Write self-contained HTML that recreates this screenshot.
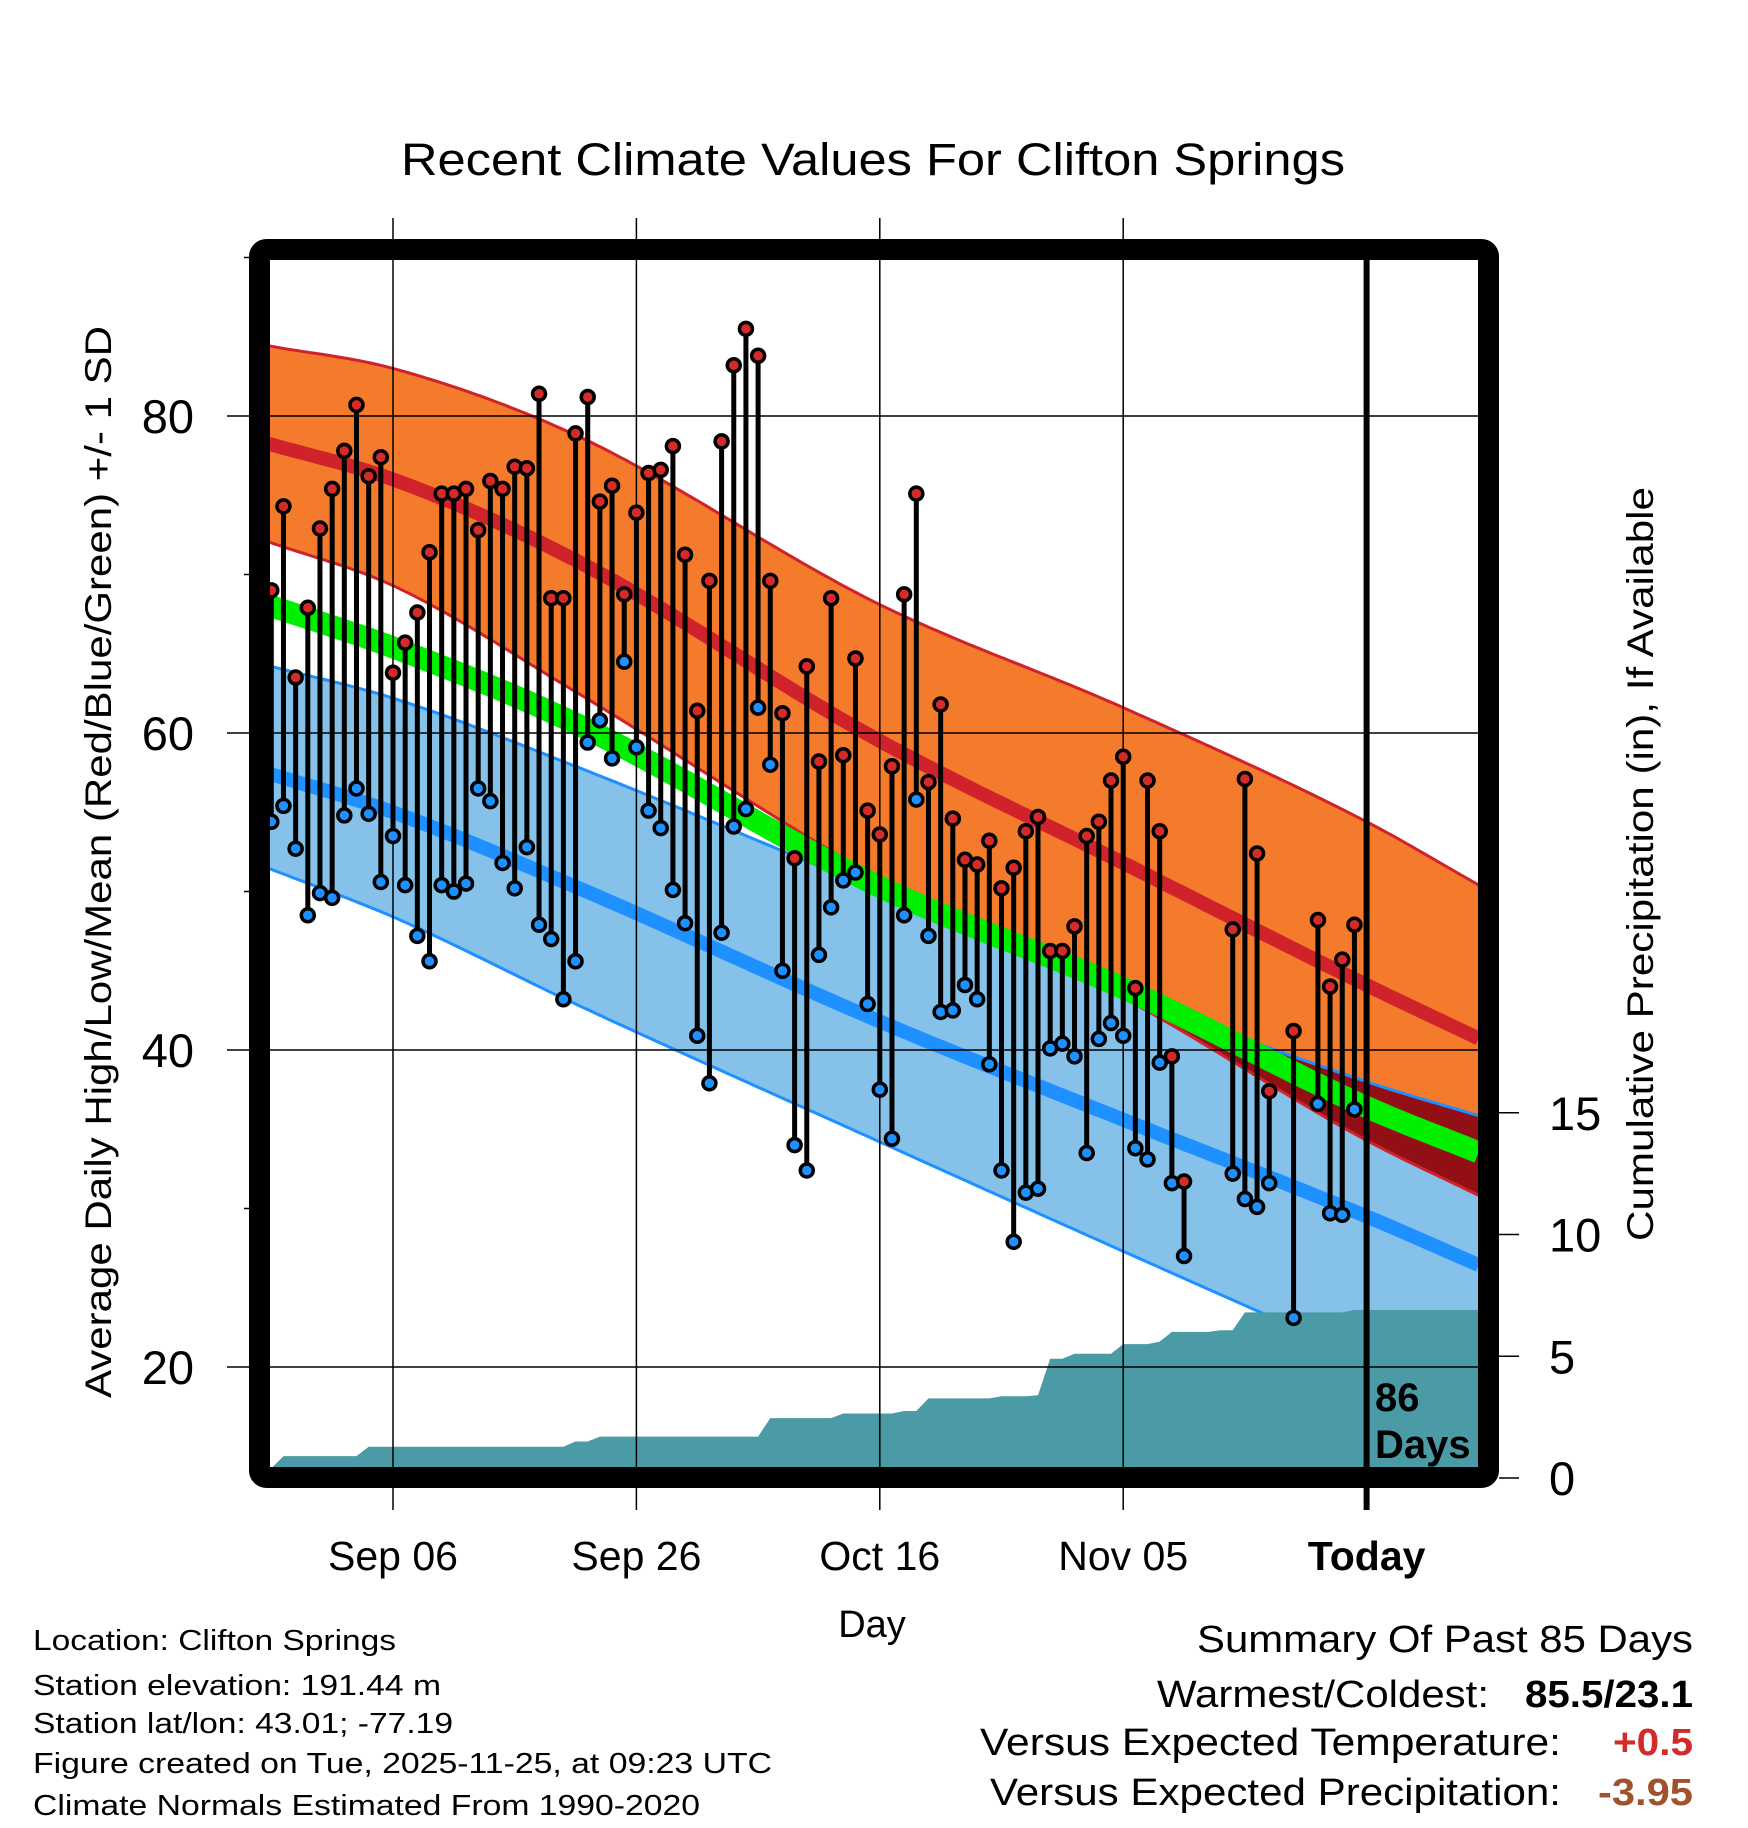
<!DOCTYPE html>
<html><head><meta charset="utf-8"><style>
html,body{margin:0;padding:0;background:#fff}
svg{display:block}
text{font-family:"Liberation Sans",Arial,sans-serif}
</style></head><body>
<svg id="chart" xmlns="http://www.w3.org/2000/svg" width="1748" height="1828" viewBox="0 0 1748 1828">
<defs><clipPath id="plotClip"><rect x="270" y="260" width="1208" height="1208"/></clipPath><clipPath id="orangeClip"><path id="orangeClipPath" d=""/></clipPath></defs>
<rect width="1748" height="1828" fill="#fff"/>
<g id="plot" clip-path="url(#plotClip)"></g>
<g id="axes"></g>
<text x="873" y="175" text-anchor="middle" font-size="45" textLength="944" lengthAdjust="spacingAndGlyphs">Recent Climate Values For Clifton Springs</text>
<text transform="translate(111,862) rotate(-90)" text-anchor="middle" font-size="37" textLength="1072" lengthAdjust="spacingAndGlyphs">Average Daily High/Low/Mean (Red/Blue/Green) +/- 1 SD</text>
<text transform="translate(1653,864) rotate(-90)" text-anchor="middle" font-size="37" textLength="754" lengthAdjust="spacingAndGlyphs">Cumulative Precipitation (in), If Available</text>
<text x="872" y="1637" text-anchor="middle" font-size="38">Day</text>
<g font-size="29">
<text x="33" y="1650" textLength="363" lengthAdjust="spacingAndGlyphs">Location: Clifton Springs</text>
<text x="33" y="1695" textLength="408" lengthAdjust="spacingAndGlyphs">Station elevation: 191.44 m</text>
<text x="33" y="1733" textLength="420" lengthAdjust="spacingAndGlyphs">Station lat/lon: 43.01; -77.19</text>
<text x="33" y="1773" textLength="739" lengthAdjust="spacingAndGlyphs">Figure created on Tue, 2025-11-25, at 09:23 UTC</text>
<text x="33" y="1815" textLength="667" lengthAdjust="spacingAndGlyphs">Climate Normals Estimated From 1990-2020</text>
</g>
<g font-size="38">
<text x="1693" y="1652" text-anchor="end" textLength="496" lengthAdjust="spacingAndGlyphs">Summary Of Past 85 Days</text>
<text x="1157" y="1707" textLength="332" lengthAdjust="spacingAndGlyphs">Warmest/Coldest:</text>
<text x="1693" y="1707" text-anchor="end" font-weight="bold" textLength="168" lengthAdjust="spacingAndGlyphs">85.5/23.1</text>
<text x="980" y="1755" textLength="581" lengthAdjust="spacingAndGlyphs">Versus Expected Temperature:</text>
<text x="1693" y="1755" text-anchor="end" font-weight="bold" fill="#d42a2a" textLength="80" lengthAdjust="spacingAndGlyphs">+0.5</text>
<text x="990" y="1805" textLength="571" lengthAdjust="spacingAndGlyphs">Versus Expected Precipitation:</text>
<text x="1693" y="1805" text-anchor="end" font-weight="bold" fill="#a0522d" textLength="95" lengthAdjust="spacingAndGlyphs">-3.95</text>
</g>
</svg>
<script>
// ---- data ----
const normDays = [-10, 0, 15, 40, 60, 80, 89];
const highPlusSD = [84.4, 83.0, 78.8, 68.1, 61.6, 54.4, 50.5];
const highMean = [78.2, 76.0, 70.9, 59.5, 51.8, 44.1, 40.8];
const highMinusSD = [72.0, 69.3, 62.6, 50.8, 43.3, 34.3, 30.9];
const meanNormal = [68.0, 65.4, 60.6, 50.3, 43.9, 36.4, 33.6];
const lowPlusSD = [64.2, 62.2, 57.9, 50.0, 43.6, 38.0, 35.9];
const lowMean = [57.4, 55.0, 50.3, 41.8, 35.6, 29.5, 26.5];
const lowMinusSD = [51.4, 48.4, 42.9, 34.2, 27.3, 20.5, 17.5];

const obsDay = [-10,-9,-8,-7,-6,-5,-4,-3,-2,-1,0,1,2,3,4,5,6,7,8,9,10,11,12,13,14,15,16,17,18,19,20,21,22,23,24,25,26,27,28,29,30,31,32,33,34,35,36,37,38,39,40,41,42,43,44,45,46,47,48,49,50,51,52,53,54,55,56,57,58,59,60,61,62,63,64,65,69,70,71,72,74,76,77,78,79];
const obsHigh = [69.0,74.3,63.5,67.9,72.9,75.4,77.8,80.7,76.2,77.4,
63.8,65.7,67.6,71.4,75.1,75.1,75.4,72.8,75.9,75.4,
76.8,76.7,81.4,68.5,68.5,78.9,81.2,74.6,75.6,68.75,
73.9,76.4,76.6,78.1,71.25,61.4,69.6,78.4,83.2,85.5,
83.8,69.6,61.25,52.1,64.2,58.2,68.5,58.6,64.7,55.1,
53.6,57.9,68.75,75.1,56.9,61.8,54.6,52.0,51.7,53.2,
50.2,51.5,53.8,54.7,46.25,46.25,47.8,53.5,54.4,57.0,
58.5,43.9,57.0,53.8,39.6,31.7,
47.6,57.1,52.4,37.4,41.2,48.2,44.0,45.7,47.9];
const obsLow = [54.4,55.4,52.7,48.5,49.9,49.6,54.8,56.5,54.9,50.6,
53.5,50.4,47.2,45.6,50.4,50.0,50.5,56.5,55.7,51.8,
50.2,52.8,47.9,47.0,43.2,45.6,59.4,60.8,58.4,64.5,
59.1,55.1,54.0,50.1,48.0,40.9,37.9,47.4,54.1,55.2,
61.6,58.0,45.0,34.0,32.4,46.0,49.0,50.7,51.2,42.9,
37.5,34.4,48.5,55.8,47.2,42.4,42.5,44.1,43.2,39.1,
32.4,27.9,31.0,31.25,40.1,40.4,39.6,33.5,40.7,41.7,
40.9,33.8,33.1,39.2,31.6,27.0,
32.2,30.6,30.1,31.6,23.1,36.6,29.7,29.6,36.25];

const precipDay = [-10,-9,-2,15,17,31,37,42,44,50,53,54,56,60,63,64,68,70,79];
const precipCum = [0.4,0.9,1.28,1.5,1.7,2.46,2.65,2.75,3.27,3.36,3.4,4.9,5.1,5.5,5.6,6.0,6.07,6.8,6.9];

const xTickDays = [0, 20, 40, 60, 80];
const xTickLabels = ["Sep 06", "Sep 26", "Oct 16", "Nov 05", "Today"];
const yTicks = [20, 40, 60, 80];
const yMinorTicks = [30, 50, 70, 90];
const pTicks = [0, 5, 10, 15];
const todayDay = 80;

// ---- scales ----
const X0 = 393, PXD = 12.17;
function xs(d){ return X0 + PXD*d; }
function ys(t){ return 416 + (80 - t)*15.85; }
function yp(p){ return 1478 - 24.35*p; }
const DMIN = -10.3, DMAX = 89.3;

const NS = "http://www.w3.org/2000/svg";
function mk(tag, attrs, parent){
  const e = document.createElementNS(NS, tag);
  for (const k in attrs) e.setAttribute(k, attrs[k]);
  parent.appendChild(e);
  return e;
}
function interp(days, vals, d){
  const n = days.length;
  if (d <= days[0]) { const s=(vals[1]-vals[0])/(days[1]-days[0]); return vals[0]+s*(d-days[0]); }
  if (d >= days[n-1]) { const s=(vals[n-1]-vals[n-2])/(days[n-1]-days[n-2]); return vals[n-1]+s*(d-days[n-1]); }
  let i = 0; while (d > days[i+1]) i++;
  const tang = k => {
    if (k === 0) return (vals[1]-vals[0])/(days[1]-days[0]);
    if (k === n-1) return (vals[n-1]-vals[n-2])/(days[n-1]-days[n-2]);
    return ((vals[k+1]-vals[k])/(days[k+1]-days[k]) + (vals[k]-vals[k-1])/(days[k]-days[k-1]))/2;
  };
  const h = days[i+1]-days[i], t = (d-days[i])/h;
  const h00=2*t*t*t-3*t*t+1, h10=t*t*t-2*t*t+t, h01=-2*t*t*t+3*t*t, h11=t*t*t-t*t;
  return h00*vals[i]+h10*h*tang(i)+h01*vals[i+1]+h11*h*tang(i+1);
}
function curvePts(vals){
  const pts=[]; for (let d=DMIN; d<=DMAX+0.001; d+=0.5) pts.push([xs(d), ys(interp(normDays, vals, d))]);
  return pts;
}
function linePath(pts){ return "M" + pts.map(p=>p[0].toFixed(1)+","+p[1].toFixed(1)).join("L"); }
function bandPath(upVals, loVals){
  const up = curvePts(upVals), lo = curvePts(loVals).reverse();
  return linePath(up) + "L" + lo.map(p=>p[0].toFixed(1)+","+p[1].toFixed(1)).join("L") + "Z";
}

const plot = document.getElementById("plot");
const axes = document.getElementById("axes");

const orangeD = bandPath(highPlusSD, highMinusSD);
const blueD = bandPath(lowPlusSD, lowMinusSD);
document.getElementById("orangeClipPath").setAttribute("d", orangeD);
const ob = mk("path", {d: orangeD, fill: "#F47A2C"}, plot);


const bb = mk("path", {d: blueD, fill: "#85C1E9"}, plot);


const ib = mk("path", {d: blueD, fill: "#930F16", "clip-path": "url(#orangeClip)"}, plot);



const e1 = mk("path", {d: linePath(curvePts(highPlusSD)), fill: "none", stroke: "#D0222A", "stroke-width": 3}, plot);


const e2 = mk("path", {d: linePath(curvePts(highMinusSD)), fill: "none", stroke: "#D0222A", "stroke-width": 3}, plot);


const e3 = mk("path", {d: linePath(curvePts(lowPlusSD)), fill: "none", stroke: "#1E90FF", "stroke-width": 3}, plot);


const e4 = mk("path", {d: linePath(curvePts(lowMinusSD)), fill: "none", stroke: "#1E90FF", "stroke-width": 3}, plot);


const gm = mk("path", {d: linePath(curvePts(meanNormal)), fill: "none", stroke: "#00EE00", "stroke-width": 22}, plot);


const hm = mk("path", {d: linePath(curvePts(highMean)), fill: "none", stroke: "#D0222A", "stroke-width": 14}, plot);


const lm = mk("path", {d: linePath(curvePts(lowMean)), fill: "none", stroke: "#1E90FF", "stroke-width": 14}, plot);



let pd = "M" + xs(DMIN-1) + "," + yp(0) + "L" + xs(DMIN-1) + "," + yp(precipCum[0]).toFixed(1);
for (let i=0;i<precipDay.length;i++){
  if (i>0) pd += "L" + xs(precipDay[i]-1).toFixed(1) + "," + yp(precipCum[i-1]).toFixed(1);
  pd += "L" + xs(precipDay[i]).toFixed(1) + "," + yp(precipCum[i]).toFixed(1);
}
pd += "L" + xs(DMAX+1) + "," + yp(precipCum[precipCum.length-1]).toFixed(1) + "L" + xs(DMAX+1) + "," + yp(0) + "Z";
const pa = mk("path", {d: pd, fill: "#4A9BA5"}, plot);



yTicks.forEach(t => {
  const g = mk("line", {x1: 227, x2: 1478, y1: ys(t), y2: ys(t), stroke: "#000", "stroke-width": 1.5}, axes);
  
  
});
xTickDays.forEach((d, i) => {
  if (d === todayDay) return;
  const g = mk("line", {x1: xs(d), x2: xs(d), y1: 218, y2: 1510, stroke: "#000", "stroke-width": 1.5}, axes);
  
  
});
yMinorTicks.forEach(t => {
  const g = mk("line", {x1: 244, x2: 260, y1: ys(t), y2: ys(t), stroke: "#000", "stroke-width": 1.5}, axes);
  
  
});

const obsG = mk("g", {}, axes);


obsDay.forEach((d, i) => {
  const x = xs(d);
  const st = mk("line", {x1: x, x2: x, y1: ys(obsHigh[i]), y2: ys(obsLow[i]), stroke: "#000", "stroke-width": 5}, obsG);
  
  
});
obsDay.forEach((d, i) => {
  const x = xs(d);
  const lo = mk("circle", {cx: x, cy: ys(obsLow[i]), r: 6.5, fill: "#1E90FF", stroke: "#000", "stroke-width": 3.5}, obsG);
  
  
  const hi = mk("circle", {cx: x, cy: ys(obsHigh[i]), r: 6.5, fill: "#D42A2A", stroke: "#000", "stroke-width": 3.5}, obsG);
  
  
});

const tl = mk("line", {x1: xs(todayDay), x2: xs(todayDay), y1: 260, y2: 1510, stroke: "#000", "stroke-width": 6}, axes);


const t86 = mk("text", {x: 1375, y: 1411, "font-size": 40, "font-weight": "bold"}, axes);
t86.textContent = "86";


const tdays = mk("text", {x: 1375, y: 1458, "font-size": 40, "font-weight": "bold"}, axes);
tdays.textContent = "Days";



const fr = mk("rect", {x: 259.5, y: 249.5, width: 1229, height: 1228, rx: 7, fill: "none", stroke: "#000", "stroke-width": 21}, axes);



yTicks.forEach(t => {
  const tx = mk("text", {x: 194, y: ys(t) + 17, "text-anchor": "end", "font-size": 47}, axes);
  tx.textContent = String(t);
  
  
});
pTicks.forEach(p => {
  const tk = mk("line", {x1: 1499, x2: 1519, y1: yp(p), y2: yp(p), stroke: "#000", "stroke-width": 1.5}, axes);
  
  
  const tx = mk("text", {x: 1549, y: yp(p) + 17, "font-size": 47}, axes);
  tx.textContent = String(p);
  
  
});
xTickDays.forEach((d, i) => {
  const tx = mk("text", {x: xs(d), y: 1570, "text-anchor": "middle", "font-size": 41}, axes);
  if (xTickLabels[i] === "Today") tx.setAttribute("font-weight", "bold");
  tx.textContent = xTickLabels[i];
  
  
});
</script>
</body></html>
